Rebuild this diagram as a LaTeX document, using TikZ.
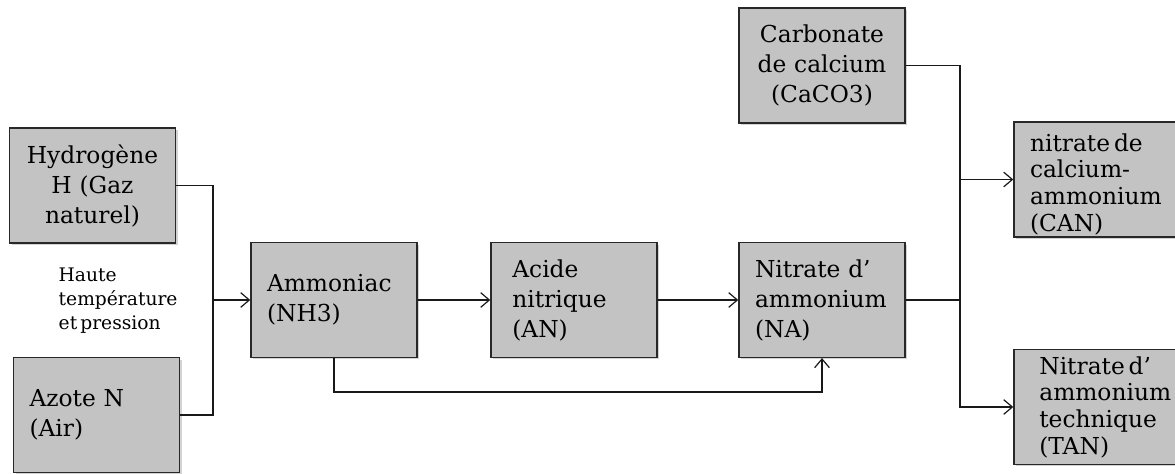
\documentclass[tikz,border=0pt]{standalone}
\usepackage{fontspec}
\setmainfont{DejaVu Serif}
\usepackage{tikz}
\usetikzlibrary{arrows.meta, positioning, shadows}
\definecolor{boxgray}{RGB}{195,195,195}
\definecolor{edgegray}{RGB}{40,40,40}
\newcommand{\boxfont}{\fontsize{17.5}{22.5}\selectfont\hyphenpenalty=10000}
\newcommand{\tightfont}{\fontsize{17.5}{20}\selectfont\hyphenpenalty=10000}
\newcommand{\notefont}{\fontsize{14}{18}\selectfont}

\begin{document}
\begin{tikzpicture}[x=0.75pt, y=-0.75pt,
  >={Straight Barb[length=6.5pt, width=11pt]},
  proc/.style={draw=edgegray, line width=1.1pt, fill=boxgray,
               text width=100.5pt, inner xsep=12pt, inner ysep=0pt,
               minimum height=86pt, align=left, font=\boxfont,
               drop shadow={shadow xshift=1.5pt, shadow yshift=-1.5pt, opacity=0.35}},
  link/.style={line width=0.9pt, black!90}
]
\useasboundingbox (0,0) rectangle (1175,474);
\node[proc, align=center] (hyd) at (92.5,185.5) {Hydrogène\\H (Gaz\\naturel)};
\node[proc] (azo) at (96.5,415) {Azote N\\(Air)};
\node[proc] (amm) at (334,300) {Ammoniac\\(NH3)};
\node[proc] (acn) at (574,300) {\hspace*{4pt}Acide\\\hspace*{4pt}nitrique\\\hspace*{4pt}(AN)};
\node[proc] (nam) at (822,300) {Nitrate d’\\ammonium\\(NA)};
\node[proc, align=center] (car) at (822,65.5) {Carbonate\\de calcium\\(CaCO3)};
\node[proc, font=\tightfont] (can) at (1097,179.5)
  {\rule{0pt}{20pt}nitrate\,de\\calcium-\\ammonium\\(CAN)};
\node[proc, font=\tightfont] (tan) at (1097,407)
  {\hspace*{7pt}Nitrate\,d’\\\hspace*{7pt}ammonium\\\hspace*{7pt}technique\\\hspace*{7pt}(TAN)};
\node[anchor=west, align=left, font=\notefont] (cond) at (54,301)
  {Haute\\température\\et\,pression};
\coordinate (mix) at (213,300);
\coordinate (split) at (960,300);
\draw[link] (hyd.east) -| (mix);
\draw[link] (azo.east) -| (mix);
\draw[link, ->] (mix) -- (amm.west);
\draw[link, ->] (amm) -- (acn);
\draw[link, ->] (acn) -- (nam);
\draw[link, ->] (amm.south) -- ++(0,34) -| (nam.south);
\draw[link] (car.east) -| (split);
\draw[link] (nam.east) -- (split);
\draw[link, ->] (split |- can.west) -- (can.west);
\draw[link, ->] (split) |- (tan.west);
\end{tikzpicture}
\end{document}
